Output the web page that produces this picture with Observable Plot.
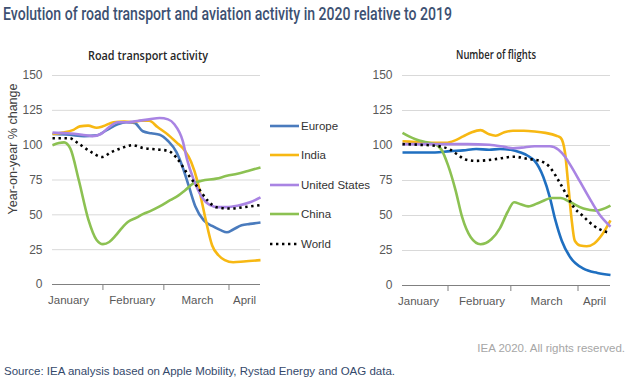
<!DOCTYPE html>
<html><head><meta charset="utf-8">
<script src="https://cdn.jsdelivr.net/npm/d3@7"></script>
<script src="https://cdn.jsdelivr.net/npm/@observablehq/plot@0.6"></script>
<style>
html,body{margin:0;padding:0;background:#fff;}
#root{position:relative;width:631px;height:385px;overflow:hidden;font-family:"Liberation Sans",Arial,sans-serif;}
.abs{position:absolute;}
.leg{position:absolute;left:270px;font-size:11.5px;color:#333;display:flex;align-items:center;height:16px;}
.leg svg{margin-right:2px;}
</style></head><body><div id="root"></div>
<script>
// ---- data (x = day of year 2020, 0 = 1 January; y = year-on-year % change) ----
const regions = ["Europe", "India", "United States", "China", "World"];
const monthNames = ["January", "February", "March", "April"];
const monthStarts = [31, 60, 91];
const yTicks = [0, 25, 50, 75, 100, 125, 150];
const roadLabelDays = [14.6, 45, 76, 98.4];
const flightLabelDays = [17.4, 46.7, 76.5, 98.6];

// Road transport activity
const roadEurope = [[7,108],[15,107.5],[22,106.5],[28,107],[33,111],[38,115],[42,116.5],[46,116],[50,110],[54,108.5],[58,107.5],[62,103],[66,95],[69,84],[72,70],[75,56],[79,46],[83,42],[87,39],[90,37.5],[93,39.5],[97,42.5],[101,43.5],[106,44.5]];
const roadIndia = [[7,108],[12,109],[17,111],[20,113.5],[24,114],[28,112.5],[31,113.5],[36,116.5],[41,117],[45,116.5],[49,117.5],[53,117.5],[57,113],[62,107.5],[66,102],[70,96],[73,88],[76,74],[78,60],[80,46],[83,28],[86,21],[89,17.5],[93,16],[98,16.5],[106,17.5]];
const roadUS = [[7,109],[14,108.5],[21,107.5],[26,106.5],[30,108],[34,113],[38,116.5],[43,116.5],[48,117.5],[53,118.5],[58,119.5],[62,118.5],[65,115],[69,103],[71,90],[74,76],[78,63],[82,57],[86,55.5],[90,55.5],[95,56.5],[101,59],[106,62.5]];
const roadChina = [[7,100],[10,101.5],[12.5,102],[15.5,97.5],[19.5,75],[24,47],[28,32],[31,29],[34,30.5],[37,35],[40,40.5],[43,45],[47,48],[50,50.5],[54,53],[58,56],[63,60.5],[67,64],[70,67.5],[74,72.5],[78,74.5],[85,76],[90,78],[95,79.5],[100,81.5],[106,84]];
const roadWorld = [[7,105],[15,105],[19.5,101],[26,94.5],[30.5,91.5],[35,95],[40,98],[45,100],[50,98],[56,97],[62,96],[66,91],[71,80],[76,70],[81,60],[85,55.5],[92,54.5],[98,55.5],[106,57]];

// Number of flights
const flightEurope = [[10,95],[18,95],[25,95],[32,96],[38,96.5],[44,97.5],[50,97],[55,97.5],[60,97],[64.5,95],[68,92.5],[71,89],[75,77.5],[78,63],[80.5,47],[83.5,32],[87.5,20],[93.5,12],[100,9],[106,7.5]];
const flightIndia = [[10,103],[16,102.5],[22,102],[30,102],[34,103.5],[38,106.5],[42,109.5],[46,111],[50,108],[53,107],[57,109.5],[61,110.5],[66,110.5],[71,110],[76,109],[81,107],[83,105.5],[85,95],[86.5,72],[88,48],[89.5,32],[92,28.5],[95,28],[98.5,30],[102,36],[106,46.5]];
const flightUS = [[10,101],[20,101],[30,101],[40,101],[50,100.5],[57,99],[61,98],[65,98.5],[71,99.5],[78,99.5],[82,97],[85,92],[87.5,86],[92,74],[97,60.5],[101,50.5],[106,42]];
const flightChina = [[10,109],[13,106.5],[16,104.5],[20.5,102.5],[25,101],[28,97],[31,86],[34.5,68],[37.5,49],[41.5,34.5],[46,29.5],[51,33],[55,41],[58.5,52.5],[61.5,59.5],[64.5,58],[68,56.5],[73.5,59.5],[79,62.5],[83,62.5],[87.5,59.5],[93.5,55],[99.5,53.5],[106,57]];
const flightWorld = [[10,101],[18,100.5],[24,100],[28.5,99],[32,97],[35,94],[39,90],[44,89],[49,89.5],[54,90.5],[58,91.5],[61.5,92],[67.5,90.5],[73.5,89],[78,84.5],[82,75],[86,64],[89,56],[93,50],[98,43],[103.5,38.5],[106,37.5]];

// ---- styles ----
const FONT = "'Liberation Sans', Arial, sans-serif";
const roadColors = {"Europe":"#4a7bbd","India":"#f7b813","United States":"#a984e3","China":"#8cc152","World":"#000"};
const flightColors = {"Europe":"#1f6fc0","India":"#f7b813","United States":"#a984e3","China":"#8cc152","World":"#000"};
const drawOrder = ["Europe","India","China","United States","World"];

function panel(seriesList, colors, xDomain, labelDays, opts) {
  const rows = [];
  regions.forEach((r, i) => seriesList[i].forEach(([d, v]) => rows.push({region: r, day: d, value: v})));
  const labelMap = new Map(labelDays.map((d, i) => [d, monthNames[i]]));
  const lineMarks = drawOrder.map(r => Plot.line(rows.filter(d => d.region === r), {
    x: "day", y: "value", stroke: colors[r], strokeWidth: 2.6,
    curve: "monotone-x",
    strokeDasharray: r === "World" ? "2.4,3.6" : null,
    strokeLinecap: "butt"
  }));
  return Plot.plot({
    width: opts.width, height: 250,
    marginTop: 10, marginBottom: opts.marginBottom, marginLeft: opts.marginLeft, marginRight: opts.marginRight,
    x: {type: "linear", domain: xDomain},
    y: {domain: [0, 150]},
    style: {fontFamily: FONT, fontSize: "12px", color: "#595959", background: "transparent"},
    marks: [
      Plot.gridY(yTicks.filter(t => t > 0), {stroke: "#d9d9d9", strokeOpacity: 1, strokeWidth: 1}),
      Plot.axisY(yTicks, {tickSize: 0, tickPadding: 10, label: null, fill: "#595959", fontSize: 12}),
      Plot.ruleY([0], {stroke: "#808080", strokeWidth: 1}),
      Plot.axisX(monthStarts, {tickSize: 6, tickFormat: () => "", stroke: "#808080", label: null}),
      Plot.axisX(labelDays, {tickSize: 0, tickPadding: 11, tickFormat: d => labelMap.get(d), label: null, fill: "#595959", fontSize: 11.5}),
      ...lineMarks
    ]
  });
}

const root = document.getElementById("root");

const left = panel([roadEurope, roadIndia, roadUS, roadChina, roadWorld], roadColors, [7, 106], roadLabelDays,
  {width: 265, marginLeft: 52, marginRight: 5, marginBottom: 31});
left.classList.add("abs"); left.style.left = "0px"; left.style.top = "65px";
root.appendChild(left);

const right = panel([flightEurope, flightIndia, flightUS, flightChina, flightWorld], flightColors, [10, 106], flightLabelDays,
  {width: 286, marginLeft: 57, marginRight: 21, marginBottom: 30});
right.classList.add("abs"); right.style.left = "345px"; right.style.top = "65px";
root.appendChild(right);

// overlay texts
const NS = "http://www.w3.org/2000/svg";
const ov = document.createElementNS(NS, "svg");
ov.setAttribute("width", 631); ov.setAttribute("height", 385);
ov.setAttribute("class", "abs"); ov.style.left = "0"; ov.style.top = "0"; ov.style.pointerEvents = "none";
function txt(s, a) {
  const t = document.createElementNS(NS, "text");
  for (const k in a) t.setAttribute(k, a[k]);
  t.textContent = s; ov.appendChild(t); return t;
}
txt("Evolution of road transport and aviation activity in 2020 relative to 2019",
  {x: 3, y: 20, "font-family": "Roboto, 'Open Sans', sans-serif", "font-weight": 500, "font-size": 17.5, fill: "#3d5172", textLength: 449, lengthAdjust: "spacingAndGlyphs"});
txt("Road transport activity", {x: 148, y: 59.5, "text-anchor": "middle", "font-family": "'Open Sans', sans-serif", "font-weight": 600, "font-size": 13, fill: "#262626", textLength: 120, lengthAdjust: "spacingAndGlyphs"});
txt("Number of flights", {x: 496, y: 58.5, "text-anchor": "middle", "font-family": "'Open Sans', sans-serif", "font-weight": 600, "font-size": 13, fill: "#262626", textLength: 80, lengthAdjust: "spacingAndGlyphs"});
txt("Year-on-year % change", {x: 0, y: 0, transform: "translate(17,149) rotate(-90)", "text-anchor": "middle", "font-family": FONT, "font-size": 12.5, fill: "#404040"});
txt("IEA 2020. All rights reserved.", {x: 625, y: 352, "text-anchor": "end", "font-family": FONT, "font-size": 11.5, fill: "#a6a6a6"});
txt("Source: IEA analysis based on Apple Mobility, Rystad Energy and OAG data.", {x: 4, y: 375, "font-family": FONT, "font-size": 11.5, fill: "#34496b", textLength: 391, lengthAdjust: "spacingAndGlyphs"});
root.appendChild(ov);

// legend
const legY = [126, 155, 185, 214, 244];
regions.forEach((r, i) => {
  const d = document.createElement("div");
  d.className = "leg"; d.style.top = (legY[i] - 8) + "px";
  const dash = r === "World" ? 'stroke-dasharray="2.4,3.6"' : "";
  d.innerHTML = `<svg width="29" height="6"><line x1="0" x2="29" y1="3" y2="3" stroke="${roadColors[r]}" stroke-width="2.6" ${dash}/></svg><span>${r}</span>`;
  root.appendChild(d);
});
</script></body></html>
